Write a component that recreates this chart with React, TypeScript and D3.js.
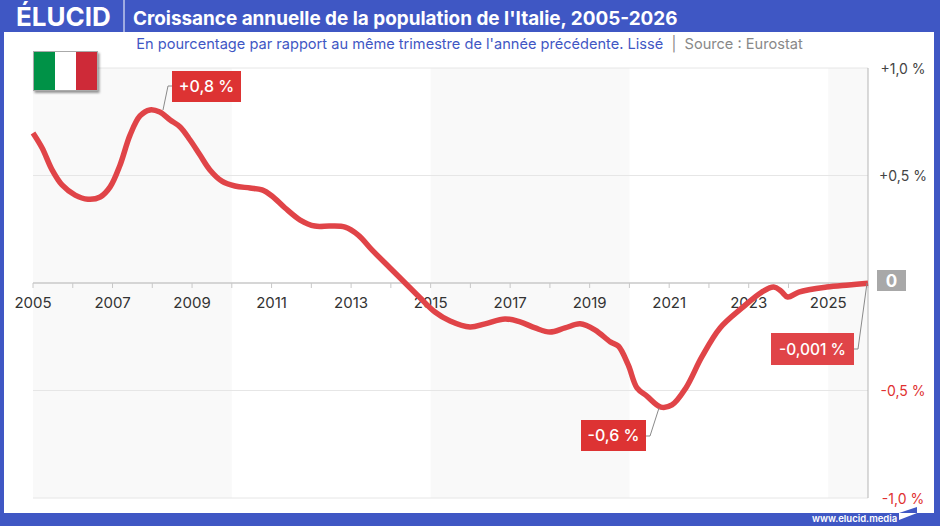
import * as d3 from 'd3';

const years = [
  2005, 2005.23, 2005.48, 2005.73, 2006.06, 2006.38, 2006.69, 2006.94, 2007.19, 2007.44,
  2007.69, 2007.94, 2008.19, 2008.45, 2008.7, 2008.95, 2009.2, 2009.45, 2009.75, 2010.08,
  2010.46, 2010.76, 2011.01, 2011.34, 2011.72, 2012.09, 2012.47, 2012.85, 2013.18, 2013.53,
  2013.98, 2014.36, 2014.74, 2015.11, 2015.49, 2015.99, 2016.37, 2016.87, 2017.25, 2017.63,
  2018, 2018.38, 2018.76, 2019.14, 2019.52, 2019.72, 2019.97, 2020.19, 2020.44, 2020.79,
  2021.07, 2021.42, 2021.82, 2022.28, 2022.83, 2023.33, 2023.63, 2023.81, 2023.98, 2024.26,
  2024.96, 2025.52, 2026,
];
const growth = [
  0.698, 0.628, 0.526, 0.456, 0.409, 0.39, 0.4, 0.447, 0.549, 0.688,
  0.777, 0.805, 0.795, 0.758, 0.726, 0.665, 0.595, 0.526, 0.474, 0.451,
  0.442, 0.433, 0.405, 0.349, 0.293, 0.265, 0.265, 0.26, 0.223, 0.153,
  0.07, 0, -0.07, -0.135, -0.177, -0.205, -0.19, -0.167, -0.181, -0.209,
  -0.228, -0.209, -0.19, -0.219, -0.274, -0.293, -0.381, -0.488, -0.526, -0.577,
  -0.567, -0.488, -0.344, -0.209, -0.116, -0.042, -0.019, -0.037, -0.065, -0.042,
  -0.019, -0.009, -0.001,
];
const yTicks = [1, 0.5, -0.5, -1];
const yTickLabels = ['+1,0 %', '+0,5 %', '-0,5 %', '-1,0 %'];
const yearLabels = [2005, 2007, 2009, 2011, 2013, 2015, 2017, 2019, 2021, 2023, 2025];
const yearTicks = d3.range(2005, 2027);
const shadedSpans = [[2005, 2010], [2015, 2020], [2025, 2026]];

const BLUE = '#3f57c4';
const FONT = "Inter, sans-serif";

export default function App() {
  const x = d3.scaleLinear([2005, 2026], [33, 868]);
  const y = d3.scaleLinear([-1, 1], [498, 68]);
  const line = d3
    .line<number>((d) => x(d), (d, i) => y(growth[i]))
    .curve(d3.curveCatmullRom.alpha(0.5));

  return (
    <svg
      width={940}
      height={526}
      style={{ position: 'absolute', left: 0, top: 0 }}
      fontFamily={FONT}
    >
      <defs>
        <filter id='flagShadow' x='-10%' y='-10%' width='125%' height='130%'>
          <feDropShadow dx={1.5} dy={2} stdDeviation={1.2} floodColor='#000' floodOpacity={0.4} />
        </filter>
      </defs>
      <rect width={940} height={526} fill='#fff' />

      {shadedSpans.map(([a, b]) => (
        <rect key={a} x={x(a)} y={y(1)} width={x(b) - x(a)} height={y(-1) - y(1)} fill='#f9f9f9' />
      ))}
      {yTicks.map((t) => (
        <line key={t} x1={x(2005)} x2={x(2026)} y1={y(t)} y2={y(t)} stroke='#e6e6e6' />
      ))}
      <line x1={x(2026)} x2={x(2026)} y1={y(1)} y2={y(-1)} stroke='#b5b5b5' />
      <line x1={x(2005)} x2={x(2026)} y1={y(0)} y2={y(0)} stroke='#c8c8c8' strokeWidth={1.5} />
      {yearTicks.map((t) => (
        <line key={t} x1={x(t)} x2={x(t)} y1={y(0)} y2={y(0) + 5} stroke='#c8c8c8' />
      ))}
      {yearLabels.map((t) => (
        <text key={t} x={x(t)} y={307.5} textAnchor='middle' fontSize={15} fill='#333'>
          {t}
        </text>
      ))}
      {yTicks.map((t, i) => (
        <text
          key={t}
          x={903}
          y={y(t) + 5.5}
          textAnchor='middle'
          fontSize={14}
          fill={t > 0 ? '#444' : '#e03030'}
        >
          {yTickLabels[i]}
        </text>
      ))}

      <path d={line(years) ?? ''} fill='none' stroke='#e04448' strokeWidth={5.5} strokeLinejoin='round' />

      <g fill='none' stroke='#8a8a8a'>
        <polyline points='163,110 168,86 172,86' />
        <polyline points='659,408 650,436 646,436' />
        <polyline points='867,283 858,349 854,349' />
      </g>
      <rect x={172} y={71} width={69} height={31} fill='#dd3333' />
      <text x={206.5} y={92} textAnchor='middle' fontSize={16} fontWeight={500} fill='#fff'>+0,8 %</text>
      <rect x={581} y={420} width={65} height={31} fill='#dd3333' />
      <text x={613.5} y={441} textAnchor='middle' fontSize={16} fontWeight={500} fill='#fff'>-0,6 %</text>
      <rect x={771} y={333} width={83} height={32} fill='#e04448' />
      <text x={812.5} y={355} textAnchor='middle' fontSize={15.5} fontWeight={500} fill='#fff'>-0,001 %</text>
      <rect x={877} y={270} width={29} height={21} fill='#a8a8a8' />
      <text x={891.5} y={287} textAnchor='middle' fontSize={17} fontWeight={700} fill='#fff'>0</text>

      <g filter='url(#flagShadow)'>
        <rect x={33} y={51} width={65} height={40} fill='#aaa' />
        <rect x={34} y={52} width={21} height={38} fill='#009246' />
        <rect x={55} y={52} width={21} height={38} fill='#fff' />
        <rect x={76} y={52} width={21} height={38} fill='#ce2b37' />
      </g>

      {/* cadre bleu */}
      <rect x={0} y={0} width={940} height={32} fill={BLUE} />
      <rect x={0} y={0} width={4} height={526} fill={BLUE} />
      <rect x={934} y={0} width={6} height={526} fill={BLUE} />
      <rect x={0} y={513} width={940} height={13} fill={BLUE} />

      <text x={16} y={26} fontSize={26} fontWeight={700} fill='#fff'>ÉLUCID</text>
      <line x1={124} x2={124} y1={0} y2={32} stroke='#fff' />
      <text x={133} y={24.5} fontSize={18.9} fontWeight={700} fill='#fff'>
        Croissance annuelle de la population de l'Italie, 2005-2026
      </text>
      <text
        x={469.5}
        y={49}
        textAnchor='middle'
        fontSize={14.6}
        fill={BLUE}
        style={{ whiteSpace: 'pre' }}
      >
        En pourcentage par rapport au même trimestre de l'année précédente. Lissé
        <tspan fill='#888'>{'  |  Source : Eurostat'}</tspan>
      </text>

      <text x={812} y={521.5} fontSize={9.5} fontWeight={600} fill='#fff'>www.elucid.media</text>
      <polygon points='899,513 917,507 917,513' fill={BLUE} />
      <polygon points='899,513 917,513 899,520' fill='#fff' />
    </svg>
  );
}
